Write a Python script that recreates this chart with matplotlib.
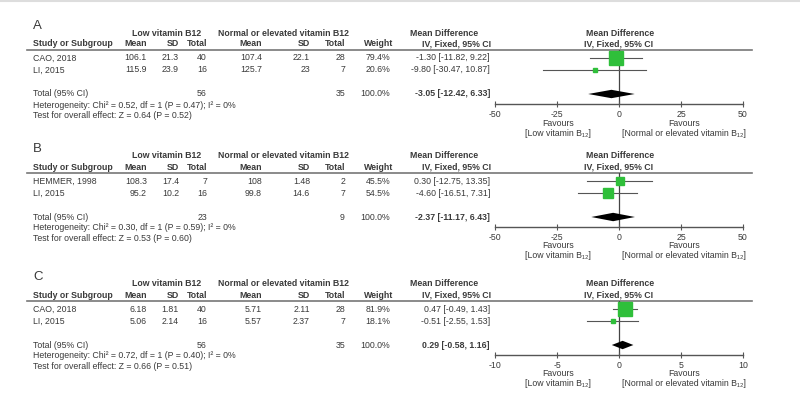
import matplotlib

matplotlib.use("Agg")

import matplotlib.pyplot as plt

plt.rcParams["font.family"] = ["Liberation Sans", "DejaVu Sans"]

# ---- panel A -------------------------------------------------------------
studies_a = ["CAO, 2018", "LI, 2015"]
low_mean_a = [106.1, 115.9]
low_sd_a = [21.3, 23.9]
low_n_a = [40, 16]
norm_mean_a = [107.4, 125.7]
norm_sd_a = [22.1, 23]
norm_n_a = [28, 7]
weight_a = [79.4, 20.6]
md_a = [-1.30, -9.80]
lo_a = [-11.82, -30.47]
hi_a = [9.22, 10.87]
pooled_a = [-3.05, -12.42, 6.33]
het_a = [0.52, 1, 0.47, 0]
z_a = [0.64, 0.52]
ticks_a = [-50, -25, 0, 25, 50]

# ---- panel B -------------------------------------------------------------
studies_b = ["HEMMER, 1998", "LI, 2015"]
low_mean_b = [108.3, 95.2]
low_sd_b = [17.4, 10.2]
low_n_b = [7, 16]
norm_mean_b = [108, 99.8]
norm_sd_b = [1.48, 14.6]
norm_n_b = [2, 7]
weight_b = [45.5, 54.5]
md_b = [0.30, -4.60]
lo_b = [-12.75, -16.51]
hi_b = [13.35, 7.31]
pooled_b = [-2.37, -11.17, 6.43]
het_b = [0.30, 1, 0.59, 0]
z_b = [0.53, 0.60]
ticks_b = [-50, -25, 0, 25, 50]

# ---- panel C -------------------------------------------------------------
studies_c = ["CAO, 2018", "LI, 2015"]
low_mean_c = [6.18, 5.06]
low_sd_c = [1.81, 2.14]
low_n_c = [40, 16]
norm_mean_c = [5.71, 5.57]
norm_sd_c = [2.11, 2.37]
norm_n_c = [28, 7]
weight_c = [81.9, 18.1]
md_c = [0.47, -0.51]
lo_c = [-0.49, -2.55]
hi_c = [1.43, 1.53]
pooled_c = [0.29, -0.58, 1.16]
het_c = [0.72, 1, 0.40, 0]
z_c = [0.66, 0.51]
ticks_c = [-10, -5, 0, 5, 10]

W, H = 800, 408
TXT = "#3a3a3a"
GREEN = "#2fbf3a"
FS = 6.3


def make_panel(letter, studies, low_mean, low_sd, low_n, norm_mean, norm_sd,
               norm_n, weight, md, lo, hi, pooled, het, z, ticks):
    return dict(letter=letter, studies=studies, low_mean=low_mean,
                low_sd=low_sd, low_n=low_n, norm_mean=norm_mean,
                norm_sd=norm_sd, norm_n=norm_n, weight=weight, md=md, lo=lo,
                hi=hi, pooled=pooled, het=het, z=z, ticks=ticks)


panels = [
    make_panel("A", studies_a, low_mean_a, low_sd_a, low_n_a, norm_mean_a,
               norm_sd_a, norm_n_a, weight_a, md_a, lo_a, hi_a, pooled_a,
               het_a, z_a, ticks_a),
    make_panel("B", studies_b, low_mean_b, low_sd_b, low_n_b, norm_mean_b,
               norm_sd_b, norm_n_b, weight_b, md_b, lo_b, hi_b, pooled_b,
               het_b, z_b, ticks_b),
    make_panel("C", studies_c, low_mean_c, low_sd_c, low_n_c, norm_mean_c,
               norm_sd_c, norm_n_c, weight_c, md_c, lo_c, hi_c, pooled_c,
               het_c, z_c, ticks_c),
]
# pixel row of the first study line in each panel
bases = [58, 181, 309]
ROW = 12

fig = plt.figure(figsize=(W / 100, H / 100), dpi=100)
lay = fig.add_axes([0, 0, 1, 1])
lay.set_xlim(0, W)
lay.set_ylim(H, 0)
lay.axis("off")
lay.plot([0, W], [0.8, 0.8], color="#dddddd", lw=1.5)


def put(x, y, s, ha="left", bold=False, size=FS):
    lay.text(x, y, s, ha=ha, va="center", fontsize=size, color=TXT,
             fontweight="bold" if bold else "normal")


def fmt_ci(est, a, b):
    return f"{est:.2f} [{a:.2f}, {b:.2f}]"


for p, base in zip(panels, bases):
    put(33, base - 32, p["letter"], size=9.5)
    put(167, base - 25, "Low vitamin B12", ha="center", bold=True)
    put(283, base - 25, "Normal or elevated vitamin B12", ha="center", bold=True)
    put(444, base - 25, "Mean Difference", ha="center", bold=True)
    put(620, base - 25, "Mean Difference", ha="center", bold=True)

    hy = base - 14
    put(33, hy, "Study or Subgroup", bold=True)
    put(147, hy, "Mean", ha="right", bold=True)
    put(179, hy, "SD", ha="right", bold=True)
    put(207, hy, "Total", ha="right", bold=True)
    put(262, hy, "Mean", ha="right", bold=True)
    put(310, hy, "SD", ha="right", bold=True)
    put(345, hy, "Total", ha="right", bold=True)
    put(393, hy, "Weight", ha="right", bold=True)
    put(491, hy, "IV, Fixed, 95% CI", ha="right", bold=True)
    put(619, hy, "IV, Fixed, 95% CI", ha="center", bold=True)
    lay.plot([27, 752], [base - 8.5, base - 8.5], color="#777777", lw=1.2)

    for i, name in enumerate(p["studies"]):
        y = base + i * ROW
        put(33, y, name)
        put(147, y, f"{p['low_mean'][i]:g}", ha="right")
        put(179, y, f"{p['low_sd'][i]:g}", ha="right")
        put(207, y, f"{p['low_n'][i]}", ha="right")
        put(262, y, f"{p['norm_mean'][i]:g}", ha="right")
        put(310, y, f"{p['norm_sd'][i]:g}", ha="right")
        put(345, y, f"{p['norm_n'][i]}", ha="right")
        put(390, y, f"{p['weight'][i]:.1f}%", ha="right")
        put(490, y, fmt_ci(p["md"][i], p["lo"][i], p["hi"][i]), ha="right")

    ty = base + 3 * ROW
    put(33, ty, "Total (95% CI)")
    put(207, ty, f"{sum(p['low_n'])}", ha="right")
    put(345, ty, f"{sum(p['norm_n'])}", ha="right")
    put(390, ty, f"{sum(p['weight']):.1f}%", ha="right")
    put(490, ty, fmt_ci(*p["pooled"]), ha="right", bold=True)
    chi, df, ph, i2 = p["het"]
    put(33, base + 47,
        f"Heterogeneity: Chi² = {chi:.2f}, df = {df} (P = {ph:.2f}); I² = {i2}%")
    put(33, base + 57.5,
        f"Test for overall effect: Z = {p['z'][0]:.2f} (P = {p['z'][1]:.2f})")

    # forest plot area: rows mapped so 12 px per row
    top, bottom = base - 8.5, base + 45.5
    fx = fig.add_axes([495 / W, 1 - bottom / H, 248 / W, (bottom - top) / H])
    fx.patch.set_visible(False)
    fx.set_xlim(p["ticks"][0], p["ticks"][-1])
    fx.set_ylim((bottom - base) / ROW, (top - base) / ROW)
    fx.axvline(0, color="#444444", lw=0.9, zorder=1)
    for i in range(len(p["studies"])):
        fx.plot([p["lo"][i], p["hi"][i]], [i, i], color="#555555", lw=0.8,
                zorder=2)
        fx.plot(p["md"][i], i, "s", ms=0.108 * p["weight"][i] + 0.8,
                color=GREEN, mec=GREEN, zorder=3)
    est, plo, phi = p["pooled"]
    fx.fill([plo, est, phi, est], [3, 3 - 0.35, 3, 3 + 0.35], color="black",
            lw=0, zorder=3)
    for side in ("top", "left", "right"):
        fx.spines[side].set_visible(False)
    fx.spines["bottom"].set_color("#555555")
    fx.spines["bottom"].set_linewidth(1.0)
    fx.set_yticks([])
    fx.set_xticks(p["ticks"])
    fx.set_xticklabels([f"{t}" for t in p["ticks"]])
    fx.tick_params(axis="x", direction="inout", length=5, width=0.8,
                   colors="#555555", labelsize=FS, labelcolor=TXT, pad=2)

    put(558, bottom + 19.5, "Favours", ha="center")
    put(684, bottom + 19.5, "Favours", ha="center")
    put(558, bottom + 29.5, "[Low vitamin B₁₂]", ha="center")
    put(684, bottom + 29.5, "[Normal or elevated vitamin B₁₂]", ha="center")

fig.savefig("out.png", dpi=100)
